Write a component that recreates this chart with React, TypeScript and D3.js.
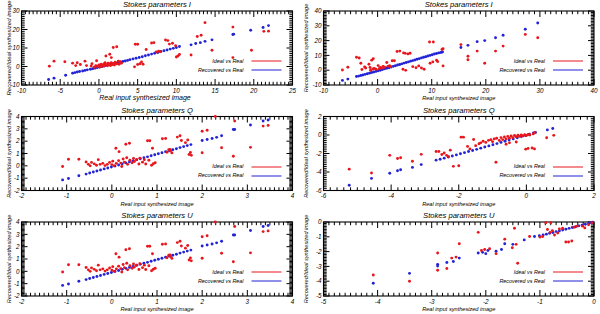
import React from "react";
import * as d3 from "d3";

type Pt = [number, number];

// ---------- data ----------
const iLeftBlue: Pt[] = [
  [-6.5, -7.0], [-5.8, -6.3], [-4.3, -4.7], [-3.4, -3.6], [-3.1, -3.3], [-2.8, -3.0], [-2.5, -2.7],
  [-2.1, -2.4], [-1.8, -2.1], [-1.5, -1.8], [-1.1, -1.5], [-0.8, -1.2], [-0.5, -0.9], [-0.2, -0.6],
  [0.1, -0.3], [0.4, 0.0], [0.7, 0.3], [1.0, 0.6], [1.3, 0.9], [1.6, 1.2], [1.9, 1.5], [2.2, 1.8],
  [2.5, 2.1], [2.8, 2.4], [3.1, 2.7], [3.4, 3.0], [3.7, 3.3], [4.0, 3.7], [4.4, 4.1], [4.8, 4.5],
  [5.2, 4.9], [5.6, 5.3], [6.0, 5.8], [6.4, 6.2], [6.8, 6.7], [7.2, 7.2], [7.6, 7.6], [8.0, 8.1],
  [8.4, 8.5], [8.8, 8.9], [9.2, 9.4], [9.6, 9.8], [10.0, 10.3], [10.4, 10.8], [11.9, 11.7],
  [12.5, 12.4], [13.1, 12.9], [13.7, 13.6], [14.6, 14.4], [17.3, 17.3], [17.4, 17.5], [19.6, 19.6],
  [21.2, 21.1], [21.9, 22.1],
];
const iLeftRed: Pt[] = [
  [-6.4, 0.2], [-5.8, 2.9], [-4.4, 2.6], [-3.4, 1.8], [-3.0, 0.5], [-2.8, 2.0], [-2.4, 1.1],
  [-1.8, 2.9], [-1.6, 0.5], [-0.9, 1.5], [-0.3, 3.1], [-1.0, 0.3], [-0.6, -0.4], [-0.4, 0.5],
  [-0.2, 0.0], [0.0, 0.9], [0.1, -0.3], [0.2, 0.5], [0.3, 1.3], [0.4, 0.1], [0.5, 0.8], [0.6, 0.3],
  [0.7, 1.5], [0.8, 2.0], [0.8, 0.7], [0.9, 5.7], [1.0, 1.1], [1.1, 0.4], [1.2, 1.8], [1.3, 0.9],
  [1.4, 6.6], [1.4, 1.4], [1.5, 0.5], [1.6, 4.8], [1.6, 2.1], [1.7, 1.0], [1.85, 10.3], [1.9, 1.6],
  [2.0, 0.8], [2.1, 2.3], [2.3, 10.7], [2.3, 1.4], [2.5, 2.9], [2.6, 1.2], [2.7, 2.6], [2.9, 1.8],
  [4.7, 12.0], [5.0, 12.0], [4.6, -0.2], [5.0, 1.1], [5.3, 1.5], [5.5, 2.4], [5.7, 1.2], [6.1, 9.2],
  [6.8, 12.7], [7.1, 12.9], [7.4, 7.9], [7.7, 8.3], [7.9, 8.0], [8.6, 14.3], [8.9, 14.0], [9.1, 12.1],
  [9.5, 12.6], [9.9, 11.2], [10.0, 5.1], [10.2, 5.7], [10.4, 6.5], [11.9, 6.2], [12.7, 16.2],
  [13.2, 16.9], [13.7, 23.7], [14.6, 8.8], [17.3, 21.3], [17.3, 4.8], [19.7, 8.8], [21.3, 19.0],
  [21.9, 19.1],
];

const iRightBlue: Pt[] = [
  [-6.5, -6.9], [-5.5, -6.0], [-3.9, -4.3], [-3.5, -4.0], [-3.1, -3.6], [-2.7, -3.2], [-2.3, -2.8],
  [-1.9, -2.4], [-1.5, -2.0], [-1.1, -1.6], [-0.7, -1.2], [-0.3, -0.8], [0.1, -0.4], [0.5, 0.0],
  [0.9, 0.4], [1.3, 0.9], [1.7, 1.3], [2.1, 1.7], [2.5, 2.2], [2.9, 2.6], [3.3, 3.0], [3.7, 3.5],
  [4.1, 3.9], [4.5, 4.3], [4.9, 4.8], [5.3, 5.2], [5.7, 5.6], [6.1, 6.1], [6.5, 6.5], [6.9, 6.9],
  [7.3, 7.4], [7.7, 7.8], [8.1, 8.3], [8.5, 8.7], [8.9, 9.1], [9.3, 9.6], [9.7, 10.0], [10.1, 10.4],
  [10.5, 10.9], [10.9, 11.3], [11.3, 11.7], [11.7, 12.0], [12.0, 12.3], [15.4, 15.3], [16.7, 16.8],
  [18.4, 19.3], [19.8, 20.0], [21.8, 21.9], [23.2, 23.6], [27.3, 27.7], [29.6, 31.9],
];
const iRightRed: Pt[] = [
  [-6.5, 0.1], [-5.5, 2.0], [-3.9, 8.7], [-3.4, 8.2], [-3.1, 4.7], [-2.9, 0.5], [-2.4, 2.2],
  [-2.2, 1.5], [-1.6, 4.0], [-1.4, 1.8], [-1.3, 0.0], [-1.1, 6.8], [-0.9, 0.8], [-0.8, 7.7],
  [-0.6, 1.2], [-0.3, 0.6], [0.1, 3.1], [0.3, 1.0], [0.5, 1.8], [0.7, 1.4], [1.0, 2.5], [1.3, 2.0],
  [1.7, 5.2], [1.9, 2.6], [2.2, 3.0], [2.4, 2.4], [2.7, 6.4], [3.1, 6.4], [3.6, 12.6], [4.1, 12.9],
  [4.8, 11.7], [5.1, 11.4], [5.6, 11.0], [6.0, 11.5], [4.7, 0.6], [5.2, -0.1], [6.5, 2.4],
  [7.1, 1.7], [7.6, 2.9], [8.1, 1.5], [8.6, 0.6], [9.6, 19.1], [10.3, 19.1], [9.7, 4.7], [10.2, 5.6],
  [10.9, 6.8], [11.1, 5.8], [11.9, 14.0], [12.1, 14.5], [12.1, 2.9], [15.4, 17.3], [16.7, 9.4],
  [16.7, 7.1], [18.4, 12.9], [19.8, 4.7], [21.8, 12.9], [23.2, 16.3], [27.3, 24.2], [29.6, 21.9],
];

const quLeftBlue: Pt[] = [
  [-1.09, -1.14], [-0.96, -1.03], [-0.73, -0.81], [-0.57, -0.67], [-0.49, -0.58], [-0.41, -0.5],
  [-0.33, -0.42], [-0.25, -0.34], [-0.17, -0.25], [-0.09, -0.17], [-0.01, -0.09], [0.07, -0.01],
  [0.15, 0.07], [0.23, 0.16], [0.31, 0.24], [0.39, 0.32], [0.47, 0.4], [0.55, 0.49], [0.63, 0.57],
  [0.71, 0.65], [0.79, 0.73], [0.87, 0.82], [0.95, 0.9], [1.03, 0.98], [1.11, 1.06], [1.19, 1.15],
  [1.27, 1.23], [1.35, 1.31], [1.43, 1.39], [1.51, 1.48], [1.59, 1.56], [1.67, 1.64], [1.75, 1.72],
  [2.0, 2.06], [2.11, 2.14], [2.22, 2.22], [2.32, 2.31], [2.43, 2.44], [2.69, 2.94], [2.72, 2.94],
  [3.07, 3.31], [3.35, 3.64], [3.46, 3.72],
];
const quLeftRed: Pt[] = [
  [-1.09, -0.05], [-0.96, 0.53], [-0.73, 0.53], [-0.57, 0.31], [-0.52, 0.12], [-0.48, 0.0],
  [-0.45, 0.28], [-0.39, 0.16], [-0.3, 0.5], [-0.34, 0.05], [-0.26, 0.12], [-0.2, 0.2], [-0.15, 0.02],
  [-0.1, 0.12], [-0.05, 0.28], [0.0, 0.1], [0.02, 0.38], [0.05, 0.0], [0.09, 1.42], [0.1, 0.2],
  [0.15, 0.42], [0.16, 1.15], [0.2, 0.22], [0.22, -0.05], [0.25, 0.55], [0.28, 0.3], [0.31, 1.75],
  [0.33, 0.65], [0.35, 0.12], [0.39, 1.83], [0.4, 0.45], [0.45, 0.25], [0.48, 0.6], [0.5, 0.35],
  [0.55, 0.5], [0.6, 0.15], [0.62, 0.62], [0.68, 0.3], [0.72, 0.5], [0.75, 0.15], [0.79, 2.03],
  [0.82, 0.45], [0.84, 2.03], [0.88, 0.05], [0.9, 1.42], [0.92, 0.17], [0.96, 0.25], [1.12, 2.19],
  [1.19, 2.22], [1.22, 1.1], [1.26, 1.3], [1.29, 1.33], [1.3, 1.2], [1.33, 1.05], [1.45, 2.33],
  [1.51, 2.44], [1.54, 2.06], [1.63, 1.88], [1.68, 2.1], [1.71, 0.92], [1.74, 1.08], [1.76, 0.85],
  [2.0, 1.06], [2.0, 2.81], [2.11, 2.89], [2.29, 4.0], [2.43, 1.47], [2.69, 0.78], [2.72, 3.64],
  [3.07, 1.5], [3.35, 3.22], [3.46, 3.28],
];

const qRightBlue: Pt[] = [
  [-5.24, -5.43], [-4.58, -4.69], [-4.04, -4.13], [-3.81, -3.87], [-3.72, -3.76], [-3.37, -3.5],
  [-3.11, -3.2], [-2.67, -2.72], [-2.55, -2.62], [-2.43, -2.5], [-2.31, -2.38], [-2.19, -2.27],
  [-2.07, -2.15], [-1.95, -2.03], [-1.83, -1.91], [-1.71, -1.79], [-1.59, -1.67], [-1.47, -1.55],
  [-1.35, -1.42], [-1.23, -1.3], [-1.11, -1.18], [-0.99, -1.05], [-0.87, -0.93], [-0.75, -0.8],
  [-0.63, -0.68], [-0.51, -0.55], [-0.39, -0.42], [-0.27, -0.3], [-0.15, -0.17], [-0.03, -0.05],
  [0.09, 0.08], [0.21, 0.21], [0.27, 0.28], [0.62, 0.55], [0.78, 0.7],
];
const qRightRed: Pt[] = [
  [-5.24, -3.69], [-4.58, -4.1], [-4.04, -2.2], [-3.81, -2.54], [-3.72, -2.46], [-3.37, -2.83],
  [-3.11, -2.09], [-2.67, -1.79], [-2.59, -1.79], [-2.5, -2.1], [-2.43, -1.95], [-2.36, -2.2],
  [-2.3, -2.35], [-2.25, -1.64], [-2.16, -3.39], [-2.0, -3.32], [-1.93, -0.23], [-1.86, -0.23],
  [-1.74, -1.23], [-1.67, -1.5], [-1.56, -0.49], [-1.5, -1.15], [-1.4, -0.95], [-1.35, -0.85],
  [-1.28, -0.68], [-1.2, -0.8], [-1.12, -0.58], [-1.05, -0.5], [-1.0, -0.72], [-0.95, -0.42],
  [-0.9, -2.94], [-0.88, -0.35], [-0.8, -0.6], [-0.75, -0.28], [-0.7, -0.5], [-0.65, -0.22],
  [-0.6, -0.42], [-0.55, -0.15], [-0.5, -0.35], [-0.45, -0.1], [-0.4, -0.28], [-0.35, -0.05],
  [-0.3, -0.2], [-0.25, -0.02], [-0.2, -0.15], [-0.15, 0.0], [-0.1, -0.1], [-0.05, 0.03],
  [0.0, -0.05], [0.05, 0.05], [0.1, 0.0], [-0.6, -1.0], [-0.5, -0.85], [-0.3, -0.75],
  [-0.02, -1.53], [0.05, -1.45], [0.17, -1.4], [0.24, -1.5], [0.6, -0.3], [0.81, -0.04],
  [0.2, 0.12], [0.25, 0.25],
];

const uRightBlue: Pt[] = [
  [-4.08, -4.14], [-3.41, -3.47], [-2.89, -2.86], [-2.89, -2.98], [-2.72, -2.74], [-2.6, -2.67],
  [-2.49, -2.44], [-2.14, -2.09], [-2.06, -2.05], [-2.0, -2.14], [-1.96, -1.93], [-1.81, -1.98],
  [-1.71, -1.86], [-1.65, -1.47], [-1.5, -1.51], [-1.29, -1.21], [-1.1, -0.98], [-1.01, -0.93],
  [-0.94, -0.87], [-0.88, -0.82], [-0.82, -0.76], [-0.76, -0.71], [-0.7, -0.65], [-0.64, -0.6],
  [-0.58, -0.54], [-0.52, -0.49], [-0.46, -0.43], [-0.4, -0.37], [-0.34, -0.32], [-0.28, -0.26],
  [-0.22, -0.21], [-0.16, -0.15], [-0.1, -0.09], [-0.05, -0.05], [-0.02, -0.02],
];
const uRightRed: Pt[] = [
  [-4.08, -3.58], [-3.41, -4.0], [-2.89, -2.09], [-2.89, -3.26], [-2.72, -3.14], [-2.63, -2.44],
  [-2.55, -2.37], [-2.49, -1.47], [-2.14, -0.7], [-2.08, -1.93], [-2.02, -1.86], [-1.93, -1.81],
  [-1.81, -2.14], [-1.65, -1.16], [-1.51, -1.74], [-1.44, -1.51], [-1.47, -0.42], [-1.41, -2.79],
  [-1.19, -0.98], [-1.0, -1.02], [-0.95, -0.98], [-0.89, -0.05], [-0.8, -0.05], [-0.86, -0.51],
  [-0.81, -0.7], [-0.77, -0.58], [-0.73, -0.88], [-0.67, -0.74], [-0.64, -0.47], [-0.58, -0.42],
  [-0.52, -1.35], [-0.47, -1.35], [-0.41, -1.28], [-0.37, -0.35], [-0.31, -0.28], [-0.21, -0.28],
  [-0.17, -0.4], [-0.1, -0.19], [-0.04, -0.05],
];

const iLeftXTicks = [-10, -5, 0, 5, 10, 15, 20, 25];
const iLeftYTicks = [-10, 0, 10, 20, 30];
const iRightXTicks = [-10, 0, 10, 20, 30, 40];
const iRightYTicks = [-10, 0, 10, 20, 30, 40];
const quLeftTicks = [-2, -1, 0, 1, 2, 3, 4];
const qRightTicks = [-6, -4, -2, 0, 2];
const uRightTicks = [-5, -4, -3, -2, -1, 0];

const titles = ["Stokes parameters I", "Stokes parameters Q", "Stokes parameters U"];
const legendLabels = ["Ideal vs Real", "Recovered vs Real"];
const xTitle = "Real input synthesized image";
const yTitle = "Recovered/Ideal synthesized image";

const RED = "#e8161c";
const BLUE = "#2323d6";
const FONT = "'Liberation Sans', Arial, Helvetica, sans-serif";

interface Panel {
  title: string;
  col: number;
  row: number;
  xTicks: number[];
  yTicks: number[];
  red: Pt[];
  blue: Pt[];
}

const panels: Panel[] = [
  { title: titles[0], col: 0, row: 0, xTicks: iLeftXTicks, yTicks: iLeftYTicks, red: iLeftRed, blue: iLeftBlue },
  { title: titles[0], col: 1, row: 0, xTicks: iRightXTicks, yTicks: iRightYTicks, red: iRightRed, blue: iRightBlue },
  { title: titles[1], col: 0, row: 1, xTicks: quLeftTicks, yTicks: quLeftTicks, red: quLeftRed, blue: quLeftBlue },
  { title: titles[1], col: 1, row: 1, xTicks: qRightTicks, yTicks: qRightTicks, red: qRightRed, blue: qRightBlue },
  { title: titles[2], col: 0, row: 2, xTicks: quLeftTicks, yTicks: quLeftTicks, red: quLeftRed, blue: quLeftBlue },
  { title: titles[2], col: 1, row: 2, xTicks: uRightTicks, yTicks: uRightTicks, red: uRightRed, blue: uRightBlue },
];

const colLeft = [21.5, 323.5];
const colWidth = [271, 270.5];
const rowTop = [11, 116.5, 222];
const plotH = 74;
const yTitleX = [10.5, 307.5];

function geom(p: Panel) {
  const L = colLeft[p.col];
  const W = colWidth[p.col];
  const T = rowTop[p.row];
  const xd = d3.extent(p.xTicks) as [number, number];
  const yd = d3.extent(p.yTicks) as [number, number];
  const x = d3.scaleLinear().domain(xd).range([L, L + W]);
  const y = d3.scaleLinear().domain(yd).range([T + plotH, T]);
  return { L, W, T, R: L + W, B: T + plotH, x, y, xd, yd };
}

function tickRects(p: Panel, pi: number): React.ReactElement[] {
  const { L, R, T, B, x, y, xd, yd } = geom(p);
  const xStep = p.xTicks[1] - p.xTicks[0];
  const yStep = p.yTicks[1] - p.yTicks[0];
  const xMinor = d3.range(0, 10 * (p.xTicks.length - 1) + 1).map((k) => xd[0] + (k * xStep) / 10);
  const yMinor = d3.range(0, 10 * (p.yTicks.length - 1) + 1).map((k) => yd[0] + (k * yStep) / 10);
  const out: React.ReactElement[] = [];
  xMinor.forEach((v, i) => {
    const len = i % 10 === 0 ? 6 : 3.2;
    const px = x(v);
    out.push(<rect key={`p${pi}xb${i}`} x={px - 0.5} y={B - len} width={1} height={len} fill="#000" />);
    out.push(<rect key={`p${pi}xt${i}`} x={px - 0.5} y={T} width={1} height={len} fill="#000" />);
  });
  yMinor.forEach((v, i) => {
    const len = i % 10 === 0 ? 6 : 3.2;
    const py = y(v);
    out.push(<rect key={`p${pi}yl${i}`} x={L} y={py - 0.5} width={len} height={1} fill="#000" />);
    out.push(<rect key={`p${pi}yr${i}`} x={R - len} y={py - 0.5} width={len} height={1} fill="#000" />);
  });
  return out;
}

function PanelView({ p, idx }: { p: Panel; idx: number }) {
  const { L, W, T, R, B, x, y } = geom(p);
  const isFirst = idx === 0;
  const cy = T + plotH / 2;
  return (
    <g fontFamily={FONT} fontStyle="italic">
      <text x={L + W / 2} y={T - 3.8} textAnchor="middle" fontSize={7.6} fill="#000">
        {p.title}
      </text>
      <rect x={L} y={T} width={W} height={plotH} fill="none" stroke="#000" strokeWidth={1.1} />
      {p.xTicks.map((v) => (
        <text key={`xl${v}`} x={x(v)} y={B + 7.8} textAnchor="middle" fontSize={6.3}>
          {String(v)}
        </text>
      ))}
      {p.yTicks.map((v) => (
        <text key={`yl${v}`} x={L - 2} y={y(v) + 2.2} textAnchor="end" fontSize={6.3}>
          {String(v)}
        </text>
      ))}
      <text
        x={isFirst ? 145 : L + W / 2}
        y={B + 15.2}
        textAnchor="middle"
        fontSize={isFirst ? 7 : 5.6}
      >
        {xTitle}
      </text>
      <text
        transform={`translate(${yTitleX[p.col]},${cy}) rotate(-90)`}
        textAnchor="middle"
        fontSize={isFirst ? 6 : 5.6}
      >
        {yTitle}
      </text>
      {p.blue.map((d, i) => (
        <circle key={`b${i}`} cx={x(d[0])} cy={y(d[1])} r={1.45} fill={BLUE} />
      ))}
      {p.red.map((d, i) => (
        <circle key={`r${i}`} cx={x(d[0])} cy={y(d[1])} r={1.45} fill={RED} />
      ))}
      {legendLabels.map((lab, i) => (
        <g key={lab}>
          <text x={R - 49} y={T + 51.8 + i * 9} textAnchor="end" fontSize={5.4}>
            {lab}
          </text>
          <rect
            x={R - 41}
            y={Math.round(T + 50 + i * 9) - 0.5}
            width={30}
            height={1}
            fill={i === 0 ? RED : BLUE}
          />
        </g>
      ))}
    </g>
  );
}

export default function App() {
  const allTicks = panels.flatMap((p, i) => tickRects(p, i));
  return (
    <svg width={600} height={314} style={{ position: "absolute", left: 0, top: 0 }}>
      <rect x={0} y={0} width={600} height={314} fill="#fff" />
      {allTicks}
      {panels.map((p, i) => (
        <PanelView key={i} p={p} idx={i} />
      ))}
    </svg>
  );
}
